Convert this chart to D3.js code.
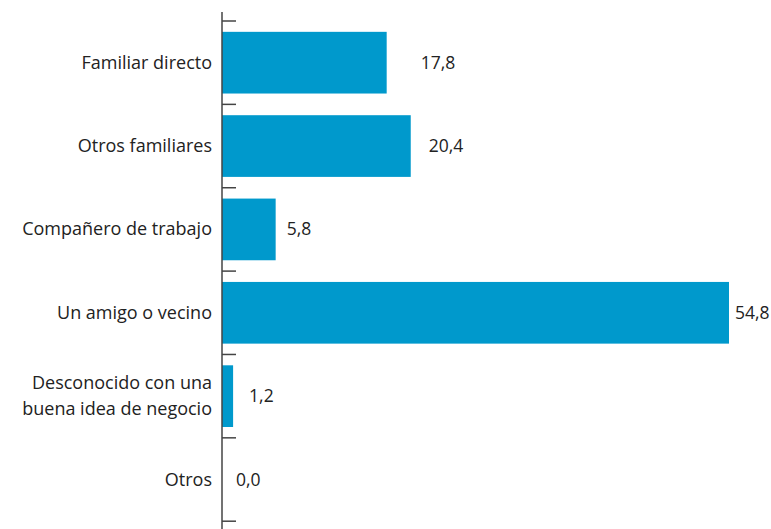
<!DOCTYPE html>
<html>
<head>
<meta charset="utf-8">
<script src="https://cdn.jsdelivr.net/npm/d3@7"></script>
<style>
  html, body { margin: 0; padding: 0; background: #fff; }
  svg text { font-family: "Open Sans", "Noto Sans", sans-serif; fill: #222; }
</style>
</head>
<body>
<svg id="chart" width="771" height="529"></svg>
<script>
const categories = [
  ['Familiar directo'],
  ['Otros familiares'],
  ['Compañero de trabajo'],
  ['Un amigo o vecino'],
  ['Desconocido con una', 'buena idea de negocio'],
  ['Otros']
]
const values = [17.8, 20.4, 5.8, 54.8, 1.2, 0.0]
const valueLabels = ['17,8', '20,4', '5,8', '54,8', '1,2', '0,0']

// space between bar end and its label
const labelGap = [34, 18, 11, 6, 16, 14]

const AXIS_X = 222
const BAR_COLOR = '#0099cc'

const svg = d3.select('#chart')
const ids = categories.map((d, i) => i)

const x = d3.scaleLinear()
  .domain([0, 54.8])
  .range([AXIS_X, 729])

const y = d3.scaleBand()
  .domain(ids)
  .range([21, 521.2])
  .paddingInner(0.26)
  .paddingOuter(0.13)

// bars
svg.append('g')
  .selectAll('rect')
  .data(values)
  .join('rect')
  .attr('x', x(0))
  .attr('y', (d, i) => y(i))
  .attr('width', d => x(d) - x(0))
  .attr('height', y.bandwidth())
  .attr('fill', BAR_COLOR)

// axis line + ticks at band edges
const gap = (y.step() - y.bandwidth()) / 2
const edges = ids.map(i => y(i) - gap).concat([y(ids[ids.length - 1]) + y.bandwidth() + gap])

svg.append('line')
  .attr('x1', AXIS_X).attr('x2', AXIS_X)
  .attr('y1', 12).attr('y2', 529)
  .attr('stroke', '#444')
  .attr('stroke-width', 1.5)

svg.append('g')
  .selectAll('line')
  .data(edges)
  .join('line')
  .attr('x1', AXIS_X).attr('x2', AXIS_X + 14)
  .attr('y1', d => d).attr('y2', d => d)
  .attr('stroke', '#444')
  .attr('stroke-width', 1.5)

// category labels
const lineH = 26
svg.append('g')
  .selectAll('text')
  .data(categories)
  .join('text')
  .attr('text-anchor', 'end')
  .attr('font-size', 18)
  .attr('dominant-baseline', 'central')
  .each(function (lines, i) {
    const cy = y(i) + y.bandwidth() / 2 - 1
    d3.select(this).selectAll('tspan')
      .data(lines)
      .join('tspan')
      .attr('x', AXIS_X - 10)
      .attr('y', (l, k) => cy + (k - (lines.length - 1) / 2) * lineH)
      .text(l => l)
  })

// value labels
svg.append('g')
  .selectAll('text')
  .data(values)
  .join('text')
  .attr('x', (d, i) => x(d) + labelGap[i])
  .attr('y', (d, i) => y(i) + y.bandwidth() / 2 - 1)
  .attr('dominant-baseline', 'central')
  .attr('font-size', 17.5)
  .text((d, i) => valueLabels[i])
</script>
</body>
</html>
